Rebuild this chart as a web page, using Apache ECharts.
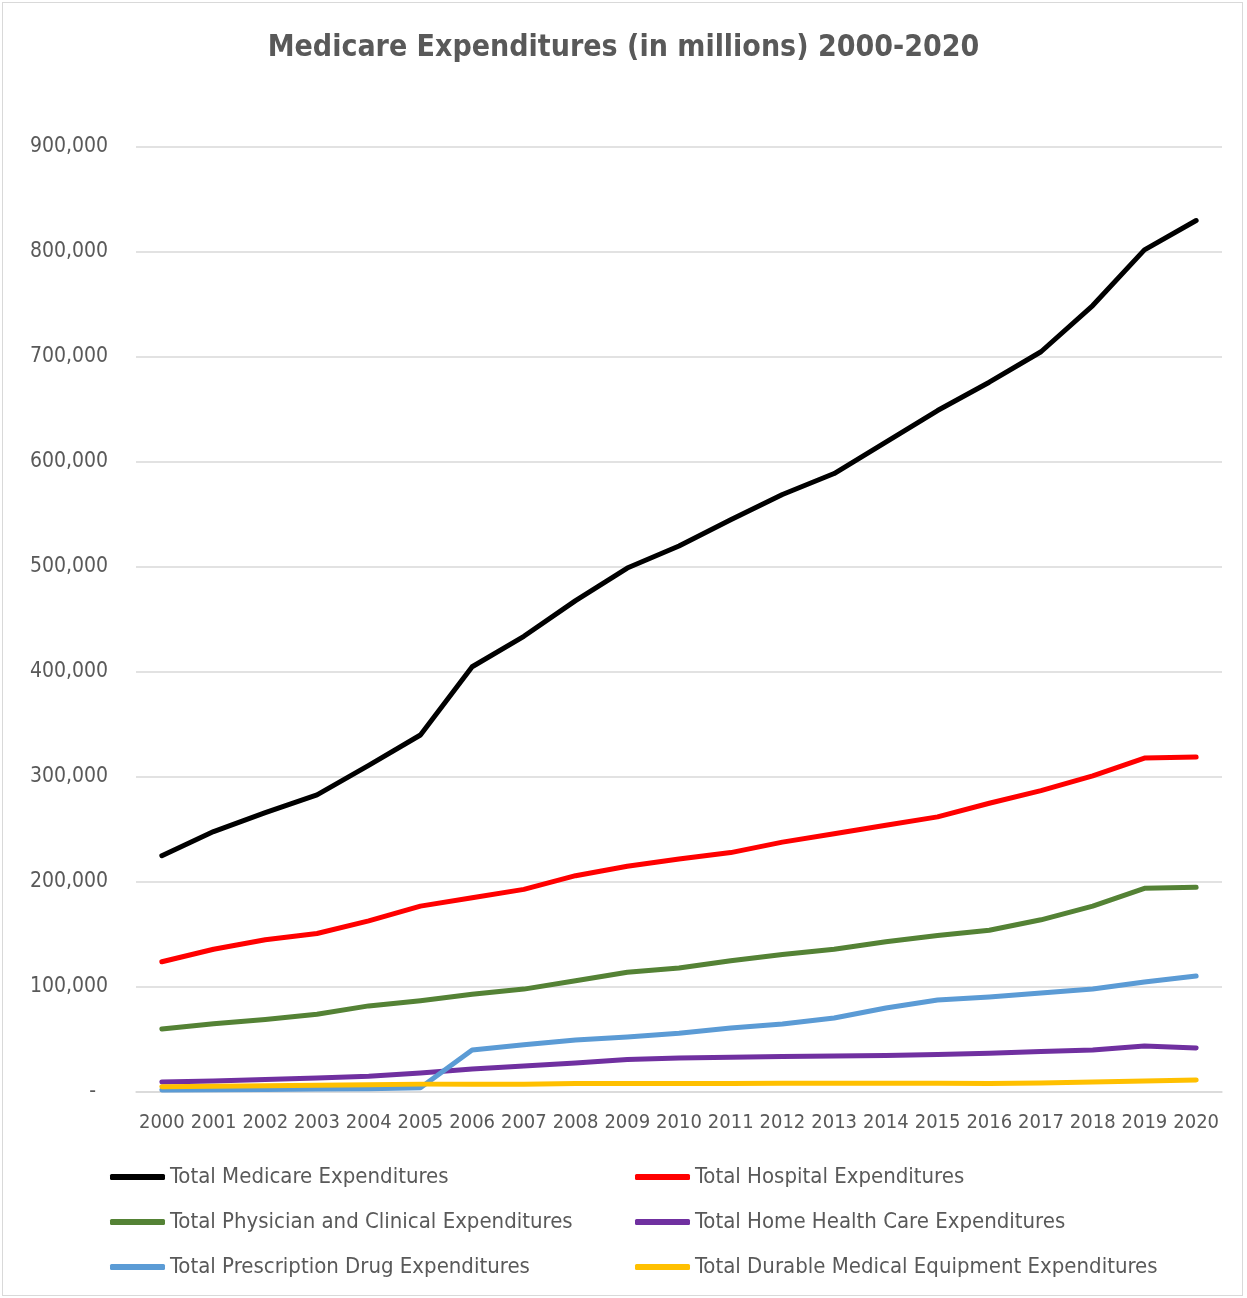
<!DOCTYPE html>
<html><head><meta charset="utf-8">
<script src="https://cdn.jsdelivr.net/npm/echarts@6/dist/echarts.min.js"></script>
<style>
html,body{margin:0;padding:0;background:#fff;}
#frame{position:absolute;left:2px;top:2px;width:1241px;height:1294px;border:1px solid #D9D9D9;box-sizing:border-box;}
#chart{position:absolute;left:0;top:0;width:1247px;height:1298px;}
</style></head>
<body>
<div id="frame"></div>
<div id="chart"></div>
<script>
const years = ['2000','2001','2002','2003','2004','2005','2006','2007','2008','2009','2010','2011','2012','2013','2014','2015','2016','2017','2018','2019','2020'];
const medicare   = [225000,248000,266000,283000,311000,340000,405000,434000,468000,499000,520000,545000,569000,589000,619000,649000,676000,705000,749000,802000,830000];
const hospital   = [124000,136000,145000,151000,163000,177000,185000,193000,206000,215000,222000,228000,238000,246000,254000,262000,275000,287000,301000,318000,319000];
const physician  = [60000,65000,69000,74000,82000,87000,93000,98000,106000,114000,118000,125000,131000,136000,143000,149000,154000,164000,177000,194000,195000];
const homeHealth = [9500,10500,12000,13300,15000,18000,22000,24800,27600,31000,32400,33000,33800,34300,34800,35700,37000,38600,40000,43800,42000];
const drug       = [2000,2200,2500,2800,3200,4000,40000,45000,49500,52400,56000,61000,64800,70500,80000,87600,90500,94300,98000,104800,110500];
const dme        = [5000,5500,6000,6500,7000,7500,7500,7500,8000,8000,8000,8000,8300,8300,8300,8300,8000,8500,9500,10500,11500];
const yTicks = [0,100000,200000,300000,400000,500000,600000,700000,800000,900000];

const names = ['Total Medicare Expenditures','Total Hospital Expenditures','Total Physician and Clinical Expenditures','Total Home Health Care Expenditures','Total Prescription Drug Expenditures','Total Durable Medical Equipment Expenditures'];
const colors = ['#000000','#FF0000','#548235','#7030A0','#5B9BD5','#FFC000'];
const datas = [medicare,hospital,physician,homeHealth,drug,dme];

const FONT = '"Liberation Sans Narrow","DejaVu Sans Condensed","Liberation Sans",sans-serif';
const chart = echarts.init(document.getElementById('chart'));
const legendText = {color:'#595959',fontSize:22,fontFamily:FONT,lineHeight:24};
chart.setOption({
  animation:false,
  title:{text:'Medicare Expenditures (in millions) 2000-2020',left:'center',top:28,
    textStyle:{color:'#595959',fontSize:30,fontWeight:'bold',fontFamily:FONT}},
  grid:{left:136,right:25,top:147,bottom:206,containLabel:false},
  xAxis:{type:'category',data:years,boundaryGap:true,
    axisLine:{lineStyle:{color:'#D9D9D9',width:1.5}},axisTick:{show:false},
    axisLabel:{color:'#595959',fontSize:20,fontFamily:FONT,margin:21,interval:0}},
  yAxis:{type:'value',min:0,max:900000,interval:100000,
    axisLine:{show:false},axisTick:{show:false},
    splitLine:{lineStyle:{color:'#D9D9D9',width:1.5}},
    axisLabel:{color:'#595959',fontSize:21,fontFamily:FONT,margin:28,
      formatter:v=> v===0 ? '-  ' : v.toLocaleString('en-US')}},
  legend:[
    {orient:'vertical',left:105,top:1160,itemWidth:55,itemHeight:6,itemGap:21,icon:'roundRect',
     data:[names[0],names[2],names[4]],textStyle:legendText},
    {orient:'vertical',left:630,top:1160,itemWidth:55,itemHeight:6,itemGap:21,icon:'roundRect',
     data:[names[1],names[3],names[5]],textStyle:legendText}
  ],
  series: names.map((n,i)=>({name:n,type:'line',data:datas[i],color:colors[i],
    showSymbol:false,symbol:'none',lineStyle:{width:5,color:colors[i],cap:'round',join:'round'},z:2+i}))
});
</script>
</body></html>
